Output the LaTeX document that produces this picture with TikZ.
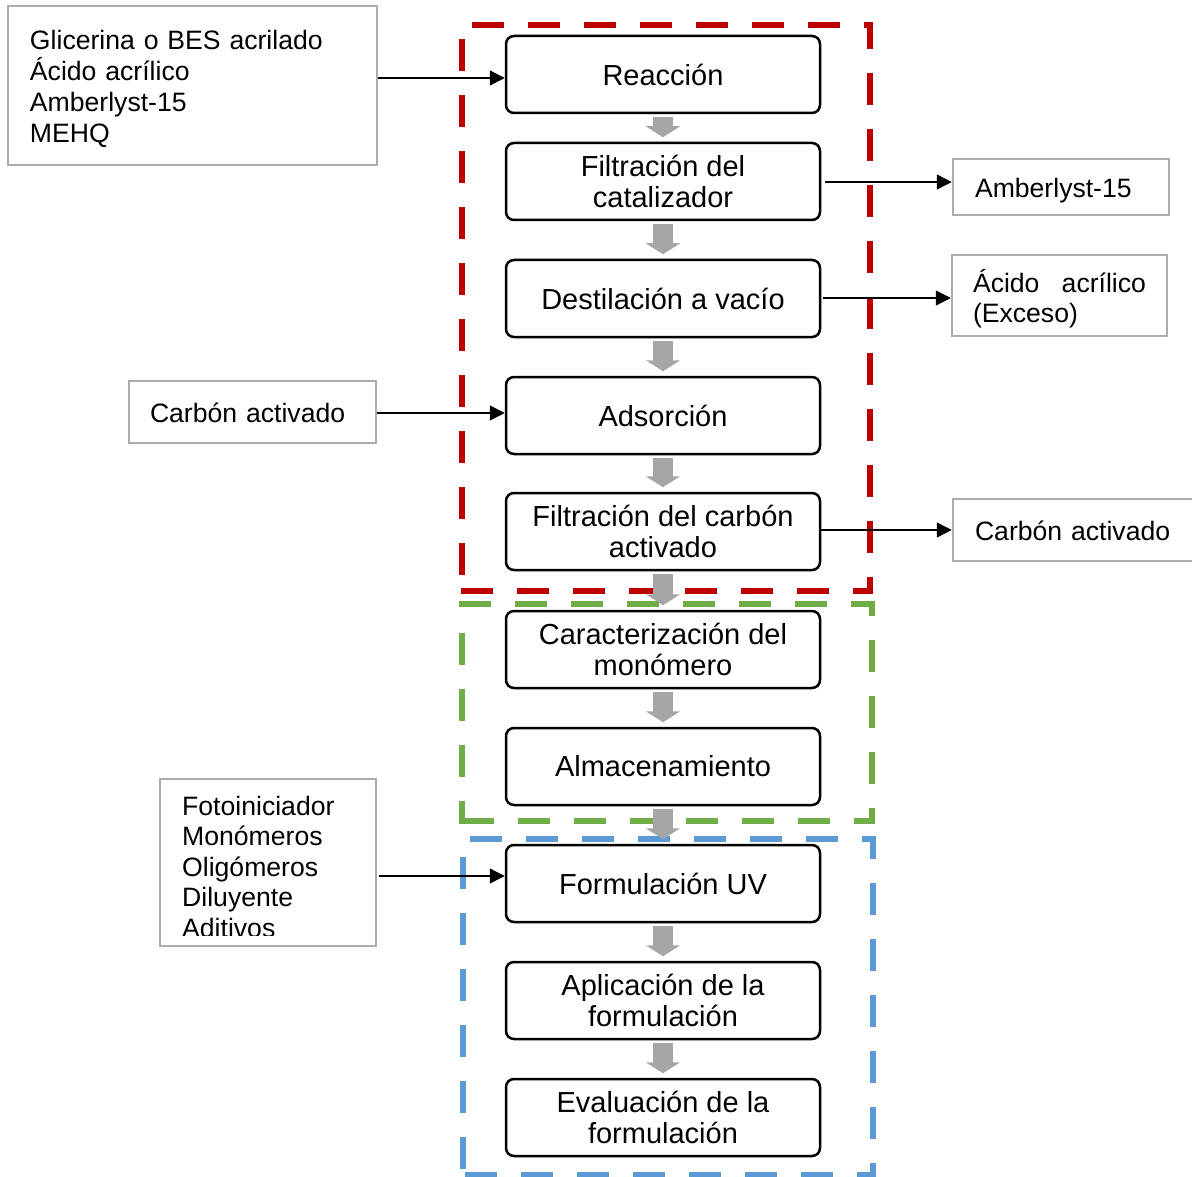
\documentclass[tikz,border=0pt]{standalone}
\usepackage{fontspec}
\setmainfont{Liberation Sans}
\usetikzlibrary{arrows.meta}
\definecolor{dred}{RGB}{192,0,0}
\definecolor{dgreen}{RGB}{112,173,71}
\definecolor{dblue}{RGB}{91,155,213}
\definecolor{agray}{RGB}{166,166,166}
\definecolor{bgray}{RGB}{172,172,172}
\newcommand\mytop[1]{\rule{0pt}{#1pt}}
\newcommand\mybot{\rule[-8pt]{0pt}{0pt}}
% dashed frame sides: #1 position, #2 min, #3 max, #4 first dash start, #5 colour
\newcommand\frameh[5]{%
  \foreach \k in {0,...,11}{%
    \pgfmathsetmacro\fa{max(#2,#4+56*\k)}%
    \pgfmathsetmacro\fb{min(#3,#4+56*\k+32)}%
    \ifdim\fa pt<\fb pt \fill[#5] (\fa,#1-3) rectangle (\fb,#1+3);\fi}}
\newcommand\framev[5]{%
  \foreach \k in {0,...,11}{%
    \pgfmathsetmacro\fa{max(#2,#4+56*\k)}%
    \pgfmathsetmacro\fb{min(#3,#4+56*\k+32)}%
    \ifdim\fa pt<\fb pt \fill[#5] (#1-3,\fa) rectangle (#1+3,\fb);\fi}}
\begin{document}
\begin{tikzpicture}[x=1pt,y=-1pt,
  mainbox/.style={draw=black, line width=2.5pt, rounded corners=8pt, fill=white,
    minimum width=314pt, minimum height=77pt, inner sep=0pt, align=center,
    font=\fontsize{29}{31}\selectfont},
  sidebox/.style={draw=bgray, line width=2.5pt, inner xsep=0pt, inner ysep=0pt,
    align=left, font=\fontsize{26.6}{31}\selectfont},
  flow/.style={draw=agray, line width=20pt, -{Triangle[length=11pt,width=34pt]},
    shorten <=3pt, shorten >=4.5pt},
  feed/.style={draw=black, line width=1.3pt, -{Triangle[length=15pt,width=15pt]}}
]
\useasboundingbox (0,0) rectangle (1192,1177);
\fill[white] (0,0) rectangle (1192,1177);

% dashed group frames (red: synthesis, green: monomer, blue: formulation)
\frameh{25}{459}{873}{472}{dred}
\framev{870}{22}{594}{17}{dred}
\frameh{591}{459}{873}{461}{dred}
\framev{462}{22}{594}{39}{dred}

\frameh{604}{459}{875}{459}{dgreen}
\framev{872}{601}{824}{584}{dgreen}
\frameh{821}{459}{875}{462}{dgreen}
\framev{462}{601}{824}{633}{dgreen}

\frameh{839}{460}{876}{470}{dblue}
\framev{873}{836}{1178}{827}{dblue}
\frameh{1175}{460}{876}{465}{dblue}
\framev{463}{836}{1178}{857}{dblue}

% main process boxes
\node[mainbox] (r1) at (663,74.5) {Reacción};
\node[mainbox] (f1) at (663,181.5) {Filtración del\\catalizador};
\node[mainbox] (d1) at (663,298.5) {Destilación a vacío};
\node[mainbox] (a1) at (663,415.5) {Adsorción};
\node[mainbox] (f2) at (663,531.5) {Filtración del carbón\\activado};
\node[mainbox] (c1) at (663,649.5) {Caracterización del\\monómero};
\node[mainbox] (al) at (663,766.5) {Almacenamiento};
\node[mainbox] (fu) at (663,883.5) {Formulación UV};
\node[mainbox] (ap) at (663,1000.5) {Aplicación de la\\formulación};
\node[mainbox] (ev) at (663,1117.5) {Evaluación de la\\formulación};

% side boxes
\node[sidebox, minimum width=369pt, minimum height=159pt, text width=325pt] (g1) at (192.5,85.5)
  {\mytop{30}Glicerina o BES acrilado\\Ácido acrílico\\Amberlyst-15\\MEHQ\mybot};
\node[sidebox, minimum width=216pt, minimum height=56pt, text width=172pt] (am) at (1061,187)
  {\mytop{30}Amberlyst-15\mybot};
\node[sidebox, minimum width=215pt, minimum height=81pt, text width=173pt] (ac) at (1059.5,295.5)
  {\mytop{32}\makebox[173pt][l]{Ácido\hfill acrílico}\\(Exceso)\mybot};
\node[sidebox, minimum width=247pt, minimum height=62pt, text width=205pt] (cl) at (252.5,412)
  {\mytop{29}Carbón activado\mybot};
\node[sidebox, minimum width=247pt, minimum height=62pt, text width=203pt] (cr) at (1076.5,530)
  {\mytop{28}Carbón activado\mybot};
\node[draw=bgray, line width=2.5pt, minimum width=216pt, minimum height=167pt, inner sep=0pt] (fi) at (268,862.5) {};
\begin{scope}
  \clip (160,779) rectangle (376,935);
  \node[anchor=north west, inner sep=0pt, align=left, font=\fontsize{26.6}{30.5}\selectfont] (fit) at (182,790)
    {\mytop{25}Fotoiniciador\\Monómeros\\Oligómeros\\Diluyente\\Aditivos};
\end{scope}

% gray flow arrows
\draw[flow] (r1) -- (f1);
\draw[flow] (f1) -- (d1);
\draw[flow] (d1) -- (a1);
\draw[flow] (a1) -- (f2);
\draw[flow] (f2) -- (c1);
\draw[flow] (c1) -- (al);
\draw[flow] (al) -- (fu);
\draw[flow] (fu) -- (ap);
\draw[flow] (ap) -- (ev);

% feed / removal arrows
\draw[feed] (g1.east |- 0,78) -- (r1.west |- 0,78);
\draw[feed, shorten <=4pt] (f1.east |- 0,182) -- (am.west |- 0,182);
\draw[feed, shorten <=2pt] (d1.east |- 0,298) -- (ac.west |- 0,298);
\draw[feed] (cl.east |- 0,413) -- (a1.west |- 0,413);
\draw[feed] (f2.east |- 0,530) -- (cr.west |- 0,530);
\draw[feed, shorten <=2pt] (fi.east |- 0,876) -- (fu.west |- 0,876);
\end{tikzpicture}
\end{document}
